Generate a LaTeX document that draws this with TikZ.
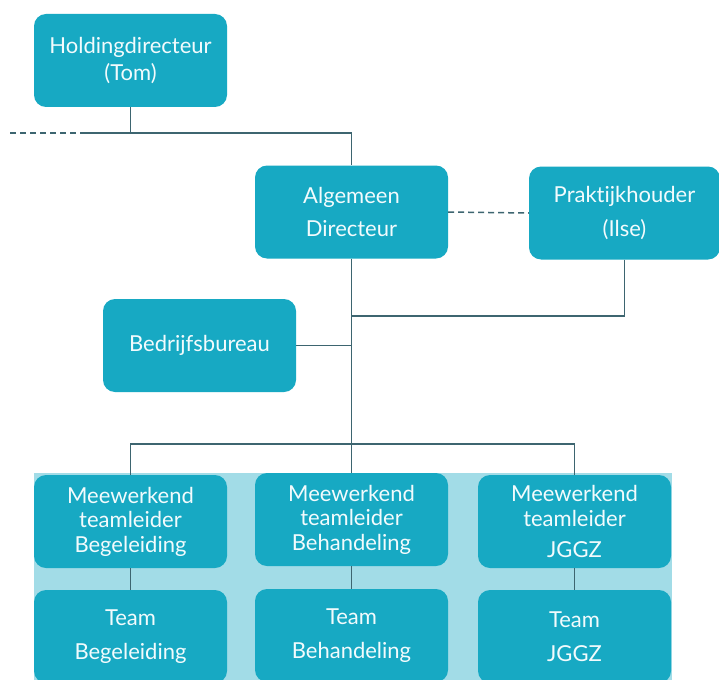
\documentclass[tikz,border=0pt]{standalone}
\usepackage{fontspec}
\setmainfont[Ligatures=NoCommon]{Lato}
\definecolor{boxc}{HTML}{17A9C3}
\definecolor{bandc}{HTML}{A2DCE7}
\definecolor{linec}{HTML}{3D6570}
\definecolor{txtc}{HTML}{F2FBFD}
\tikzset{
  x=1pt, y=-1pt,
  box/.style={fill=boxc, rounded corners=12pt, minimum width=193pt, minimum height=93pt,
    text=txtc, align=center, inner sep=0pt, font=\fontsize{22}{24.5}\selectfont},
  conn/.style={draw=linec, line width=1.5pt},
  dconn/.style={conn, dash pattern=on 6pt off 4pt}
}
\begin{document}
\begin{tikzpicture}
\useasboundingbox (0,0) rectangle (719,679);
\fill[white] (0,0) rectangle (719,679);
% band
\fill[bandc] (34,473) rectangle (672,690);
% nodes
\node[box] (hold) at (130.5,60.5) {Holdingdirecteur\\[2pt](Tom)};
\node[box] (alg) at (351.5,212) {Algemeen\\[9pt]Directeur};
\node[box, minimum width=191pt] (prak) at (624.5,213) {Praktijkhouder\\[9pt](Ilse)};
\node[box] (bed) at (199.5,345.5) {Bedrijfsbureau};
\node[box] (m1) at (130.5,521.5) {Meewerkend\\teamleider\\Begeleiding};
\node[box] (m2) at (351.5,519.5) {Meewerkend\\teamleider\\Behandeling};
\node[box] (m3) at (574.5,521.5) {Meewerkend\\teamleider\\[7pt]JGGZ};
\node[box] (t1) at (130.5,636.5) {Team\\[10pt]Begeleiding};
\node[box] (t2) at (351.5,635.5) {Team\\[10pt]Behandeling};
\node[box] (t3) at (574.5,636.5) {Team\\[10pt]JGGZ};
% coordinates
\coordinate (dl) at (10,133);
\coordinate (jl) at (80,133);
\coordinate (jh) at (130.5,133);
\coordinate (jp) at (351.5,316);
\coordinate (bus) at (351.5,444);
% connectors
\draw[dconn] (dl) -- (jl);
\draw[conn] (jl) -| (alg.north);
\draw[conn] (hold.south) -- (jh);
\draw[dconn] (alg.east) -- (prak.west);
\draw[conn] (alg.south) -- (bus);
\draw[conn] (prak.south) |- (jp);
\draw[conn] (bed.east) -- (bed.east -| alg.south);
\draw[conn] (m1.north) |- (bus) -| (m3.north);
\draw[conn] (bus) -- (m2.north);
\draw[conn] (m1.south) -- (t1.north);
\draw[conn] (m2.south) -- (t2.north);
\draw[conn] (m3.south) -- (t3.north);
\end{tikzpicture}
\end{document}
